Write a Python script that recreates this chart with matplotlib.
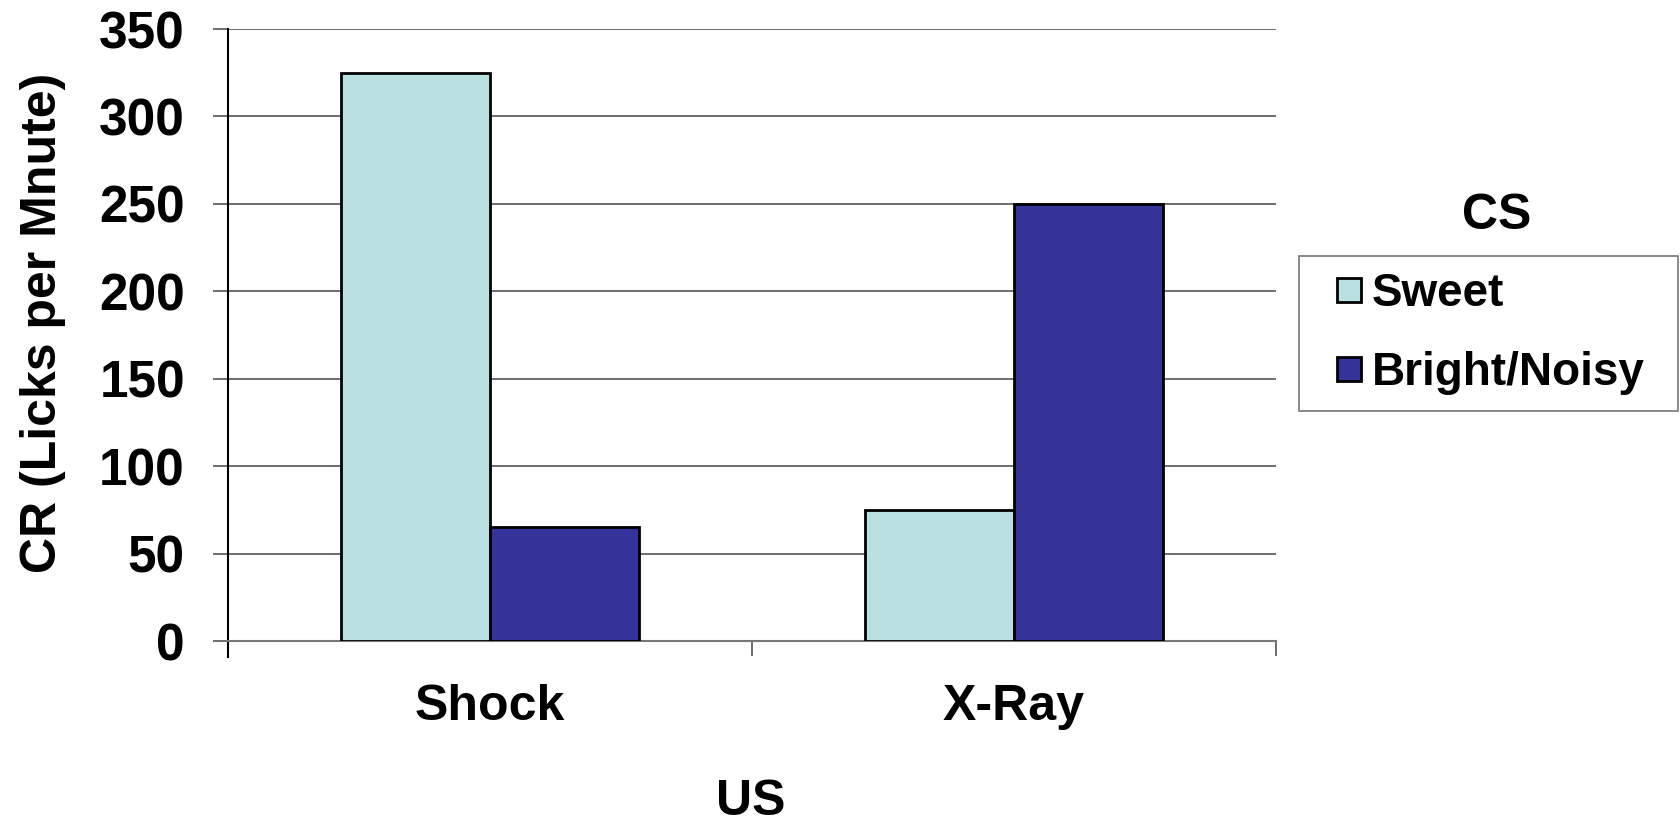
import numpy as np
import matplotlib
matplotlib.use("Agg")
import matplotlib.pyplot as plt
from matplotlib.patches import Rectangle
from matplotlib.legend_handler import HandlerPatch

# datos
categorias = ["Shock", "X-Ray"]
series = ["Sweet", "Bright/Noisy"]
sweet = [325, 75]
bright = [65, 250]
colores = ["#BBE0E3", "#333399"]

plt.rcParams['font.family'] = ['Liberation Sans', 'DejaVu Sans']
plt.rcParams['font.weight'] = 'bold'

fig = plt.figure(figsize=(16.8, 8.25), dpi=100)
ax = fig.add_axes([0.1357, 0.2230, 0.6238, 0.7418])

x = np.arange(len(categorias))
ancho = 0.285
b1 = ax.bar(x - ancho / 2, sweet, ancho, color=colores[0], edgecolor="black", linewidth=2, label=series[0], zorder=3)
b2 = ax.bar(x + ancho / 2, bright, ancho, color=colores[1], edgecolor="black", linewidth=2, label=series[1], zorder=3)

ax.set_xlim(-0.5, len(categorias) - 0.5)
ax.set_ylim(0, 350)
ax.set_yticks(np.arange(0, 351, 50))
ax.yaxis.grid(True, color="#555555", linewidth=1.2, zorder=0)

for lado in ["top", "right"]:
    ax.spines[lado].set_visible(False)
ax.spines["left"].set_color("black")
ax.spines["left"].set_linewidth(1.5)
ax.spines["left"].set_bounds(-9, 350)
ax.spines["bottom"].set_color("#777777")
ax.spines["bottom"].set_linewidth(1.5)

ax.tick_params(axis="y", length=11, width=1.2, color="#555555", pad=20, labelsize=37)
ax.set_xticks(x)
ax.set_xticklabels(categorias, fontsize=36, fontweight="bold")
ax.set_xticks(np.arange(-0.5, len(categorias), 1), minor=True)
ax.tick_params(axis="x", which="major", length=0, pad=31)
ax.tick_params(axis="x", which="minor", length=11, width=1.2, color="#555555")
for t in ax.get_yticklabels():
    t.set_fontweight("bold")

ax.set_ylabel("CR (Licks per Mnute)", fontsize=36, fontweight="bold")
ax.yaxis.set_label_coords(-0.155, 0.52)
fig.text(0.447, 0.028, "US", fontsize=36, fontweight="bold", ha="center", va="center")


# cuadradito del lado derecho del hueco de la leyenda
def cuadro(legend, orig_handle, xdescent, ydescent, width, height, fontsize):
    lado = height * 0.88
    return Rectangle((width - lado - xdescent, -ydescent + (height - lado) / 2), lado, lado)


handles = [b1.patches[0], b2.patches[0]]
leg = ax.legend(handles, series, loc="upper left",
                bbox_to_anchor=(1299 / 1680, 1 - 410 / 825, 379 / 1680, 154 / 825),
                bbox_transform=fig.transFigure, mode="expand",
                handler_map={Rectangle: HandlerPatch(patch_func=cuadro)},
                fontsize=33, frameon=True, fancybox=False, handlelength=1.0, handleheight=0.55,
                handletextpad=0.22, labelspacing=0.75, borderpad=0.36, borderaxespad=0)
leg.get_frame().set_edgecolor("#555555")
leg.get_frame().set_linewidth(1.2)
for t in leg.get_texts():
    t.set_fontweight("bold")
fig.text(1497 / 1680, 1 - 216 / 825, "CS", fontsize=36, fontweight="bold", ha="center", va="center")

fig.savefig("out.png", dpi=100)
